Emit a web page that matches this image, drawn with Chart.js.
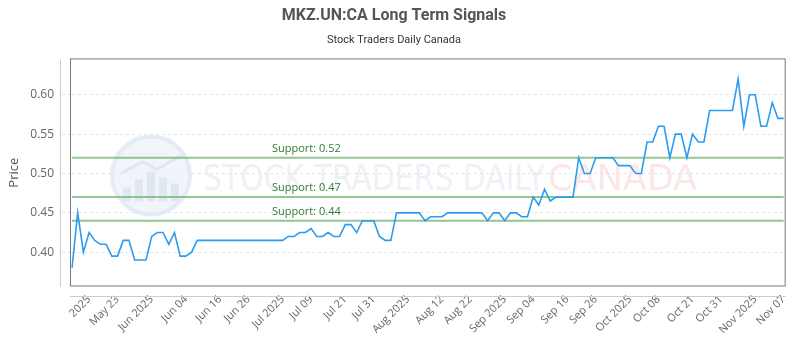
<!DOCTYPE html>
<html>
<head>
<meta charset="utf-8">
<script src="https://cdn.jsdelivr.net/npm/chart.js@4.4.1/dist/chart.umd.min.js"></script>
<style>
  html, body { margin: 0; padding: 0; background: #fff; }
</style>
</head>
<body>
<canvas id="chart-signals" width="800" height="350"></canvas>
<script>
// closing prices, one per session
const prices = [
    0.38, 0.45, 0.40, 0.425, 0.415, 0.41, 0.41, 0.395, 0.395, 0.415,
    0.415, 0.39, 0.39, 0.39, 0.42, 0.425, 0.425, 0.41, 0.425, 0.395,
    0.395, 0.40, 0.415, 0.415, 0.415, 0.415, 0.415, 0.415, 0.415, 0.415,
    0.415, 0.415, 0.415, 0.415, 0.415, 0.415, 0.415, 0.415, 0.42, 0.42,
    0.425, 0.425, 0.43, 0.42, 0.42, 0.425, 0.42, 0.42, 0.435, 0.435,
    0.425, 0.44, 0.44, 0.44, 0.42, 0.415, 0.415, 0.45, 0.45, 0.45,
    0.45, 0.45, 0.44, 0.445, 0.445, 0.445, 0.45, 0.45, 0.45, 0.45,
    0.45, 0.45, 0.45, 0.44, 0.45, 0.45, 0.44, 0.45, 0.45, 0.445,
    0.445, 0.47, 0.46, 0.48, 0.465, 0.47, 0.47, 0.47, 0.47, 0.52,
    0.50, 0.50, 0.52, 0.52, 0.52, 0.52, 0.51, 0.51, 0.51, 0.50,
    0.50, 0.54, 0.54, 0.56, 0.56, 0.52, 0.55, 0.55, 0.52, 0.55,
    0.54, 0.54, 0.58, 0.58, 0.58, 0.58, 0.58, 0.62, 0.56, 0.60,
    0.60, 0.56, 0.56, 0.59, 0.57, 0.57
];

// x tick labels and the session they sit on
const tickIdx  = [3, 8, 14, 20, 26, 31, 37, 42, 48, 53, 59, 65, 70, 76, 81, 87, 92, 98, 103, 109, 114, 120, 125];
const tickText = ['2025', 'May 23', 'Jun 2025', 'Jun 04', 'Jun 16', 'Jun 26', 'Jul 2025', 'Jul 09', 'Jul 21', 'Jul 31',
                  'Aug 2025', 'Aug 12', 'Aug 22', 'Sep 2025', 'Sep 04', 'Sep 16', 'Sep 26', 'Oct 2025', 'Oct 08',
                  'Oct 21', 'Oct 31', 'Nov 2025', 'Nov 07'];

const yTicks = [0.40, 0.45, 0.50, 0.55, 0.60];
const supportLevels = [0.52, 0.47, 0.44];
const yMin = 0.357, yMax = 0.645;

let labels = prices.map(function(p, i){
    let k = tickIdx.indexOf(i);
    return k >= 0 ? tickText[k] : '';
});

// watermark di belakang garis
const watermark = {
    id: 'watermark',
    beforeDatasetsDraw(chart){
        const c = chart.ctx, a = chart.chartArea;
        c.save();
        // logo bulat
        const cx = a.left + 79, cy = a.top + 116;
        c.beginPath();
        c.arc(cx, cy, 39, 0, Math.PI * 2);
        c.fillStyle = 'rgba(238,242,249,0.8)';
        c.fill();
        c.lineWidth = 4;
        c.strokeStyle = 'rgba(226,233,244,0.85)';
        c.stroke();
        c.fillStyle = 'rgba(220,229,241,0.85)';
        [[-24, 14], [-12, 22], [0, 30], [12, 24], [24, 18]].forEach(function(b){
            c.fillRect(cx + b[0] - 4, cy + 26 - b[1], 8, b[1]);
        });
        c.beginPath();
        c.moveTo(cx - 30, cy - 2); c.lineTo(cx - 8, cy - 14); c.lineTo(cx + 6, cy - 6); c.lineTo(cx + 30, cy - 20);
        c.lineWidth = 3;
        c.strokeStyle = 'rgba(220,229,241,0.85)';
        c.stroke();

        // tulisan
        c.font = '36px "DejaVu Sans Condensed"';
        c.textBaseline = 'alphabetic';
        let t1 = 'STOCK TRADERS DAILY', t2 = 'CANADA';
        let w1 = c.measureText(t1).width, w2 = c.measureText(t2).width;
        c.save();
        c.translate(a.left + 131, a.top + 131);
        c.scale(342 / w1, 1);
        c.fillStyle = 'rgba(226,231,240,0.6)';
        c.fillText(t1, 0, 0);
        c.restore();
        c.save();
        c.translate(a.left + 476, a.top + 131);
        c.scale(149 / w2, 1);
        c.fillStyle = 'rgba(252,214,214,0.6)';
        c.fillText(t2, 0, 0);
        c.restore();
        c.restore();
    }
};

// garis support
const supportLines = {
    id: 'supportLines',
    beforeDatasetsDraw(chart){
        const c = chart.ctx, a = chart.chartArea, ys = chart.scales.y;
        c.save();
        supportLevels.forEach(function(lvl){
            let y = ys.getPixelForValue(lvl);
            c.beginPath();
            c.moveTo(a.left, y);
            c.lineTo(a.right, y);
            c.lineWidth = 2;
            c.strokeStyle = 'rgba(110,180,110,0.75)';
            c.stroke();
            c.font = '11px "Open Sans"';
            c.fillStyle = '#2e7d32';
            c.textAlign = 'left';
            c.textBaseline = 'middle';
            c.fillText('Support: ' + lvl.toFixed(2), a.left + 200, y - 9);
        });
        c.restore();
    }
};

// kotak area chart + garis sumbu luar
const frame = {
    id: 'frame',
    afterDraw(chart){
        const c = chart.ctx, a = chart.chartArea;
        c.save();
        c.lineWidth = 1;
        c.strokeStyle = '#777';
        c.strokeRect(a.left - 1.5, a.top - 0.5, a.right - a.left + 3, a.bottom - a.top + 0.5);
        c.strokeStyle = '#ccc';
        c.beginPath();
        c.moveTo(a.left - 11.5, a.top);
        c.lineTo(a.left - 11.5, a.bottom + 1);
        c.moveTo(a.left - 2, a.bottom + 10.5);
        c.lineTo(a.right + 2, a.bottom + 10.5);
        c.stroke();
        c.restore();
    }
};

var ctx = document.getElementById('chart-signals');
var signalChart = new Chart(ctx, {
    type: 'line',
    data: {
        labels: labels,
        datasets: [{
            label: 'Price',
            data: prices,
            borderColor: '#2b9cf2',
            borderWidth: 1.6,
            pointRadius: 0,
            tension: 0,
            fill: false
        }]
    },
    options: {
        responsive: false,
        animation: false,
        layout: { padding: { left: 0, right: 12, top: 0, bottom: 0 } },
        plugins: {
            legend: { display: false },
            tooltip: { enabled: false },
            title: {
                display: true,
                text: 'MKZ.UN:CA Long Term Signals',
                color: '#555',
                font: { family: 'Roboto', size: 16, weight: 'bold' },
                padding: { top: 6, bottom: 4 }
            },
            subtitle: {
                display: true,
                text: 'Stock Traders Daily Canada',
                color: '#333',
                font: { family: 'Roboto', size: 11 },
                padding: { top: 4, bottom: 13 }
            }
        },
        scales: {
            x: {
                type: 'category',
                offset: false,
                grid: { display: false, drawTicks: false },
                border: { display: false },
                ticks: {
                    autoSkip: false,
                    minRotation: 45,
                    maxRotation: 45,
                    padding: 7,
                    color: '#666',
                    font: { family: 'Open Sans', size: 11 }
                },
                afterFit: function(s){ s.height = 64; }
            },
            y: {
                min: yMin,
                max: yMax,
                afterBuildTicks: function(s){ s.ticks = yTicks.map(function(v){ return { value: v }; }); },
                grid: { color: '#e4e4e4', drawTicks: true, tickLength: 10, tickColor: '#e4e4e4', tickBorderDash: [3, 3] },
                border: { display: false, dash: [3, 3] },
                ticks: {
                    padding: 8,
                    color: '#666',
                    font: { family: 'Open Sans', size: 12 },
                    callback: function(v){ return v.toFixed(2); }
                },
                title: {
                    display: true,
                    text: 'Price',
                    color: '#555',
                    font: { family: 'Open Sans', size: 13 },
                    padding: { top: 6, bottom: 0 }
                },
                afterFit: function(s){ s.width = 72; }
            }
        }
    },
    plugins: [watermark, supportLines, frame]
});
</script>
</body>
</html>
